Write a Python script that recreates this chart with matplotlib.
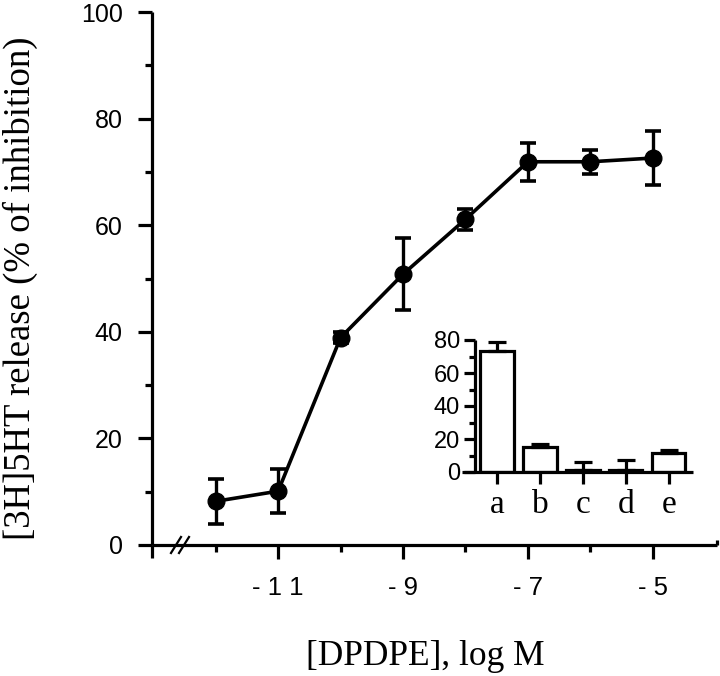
import matplotlib
matplotlib.use("Agg")
import matplotlib.pyplot as plt
from matplotlib.lines import Line2D
import numpy as np

# ---- data ----
log_conc = [-12, -11, -10, -9, -8, -7, -6, -5]
inhibition = [8.2, 10.1, 38.9, 50.8, 61.1, 71.9, 71.9, 72.6]
inhibition_err = [4.2, 4.1, 1.0, 6.8, 2.0, 3.6, 2.3, 5.0]

x_major = [-11, -9, -7, -5]
x_major_labels = ["- 1 1", "- 9", "- 7", "- 5"]
x_minor = [-12, -10, -8, -6]

inset_cats = ["a", "b", "c", "d", "e"]
inset_vals = [73.5, 15.4, 1.4, 1.4, 11.6]
inset_err = [5.1, 1.4, 4.4, 6.0, 1.6]

SANS = ["Liberation Sans", "DejaVu Sans"]
SERIF = ["Liberation Serif", "DejaVu Serif"]
LW = 2.3

W, H = 720, 676
fig = plt.figure(figsize=(W / 100, H / 100), dpi=100)

def fx(px):
    return px / W

def fy(py):
    return 1 - py / H

# main axes: y-axis at x=152, right end 717, y=0 at 545, y=100 at 12
ax = fig.add_axes([fx(152), fy(545), fx(717) - fx(152), fy(12) - fy(545)])
ax.set_xlim(-13.02, -3.97)
ax.set_ylim(0, 100)
for s in ["top", "right"]:
    ax.spines[s].set_visible(False)
for s in ["left", "bottom"]:
    ax.spines[s].set_linewidth(LW)
    ax.spines[s].set_capstyle("butt")

ax.errorbar(log_conc, inhibition, yerr=inhibition_err, color="black", lw=2.6,
            marker="o", markersize=12, capsize=6, capthick=2.6, elinewidth=2.4,
            clip_on=False, zorder=3)

ax.set_yticks([0, 20, 40, 60, 80, 100])
ax.set_yticks([10, 30, 50, 70, 90], minor=True)
ax.set_xticks(x_major)
ax.set_xticklabels(x_major_labels)
ax.set_xticks(x_minor, minor=True)
ax.tick_params(axis="y", which="major", length=10, width=LW, pad=11,
               labelsize=18, direction="out")
ax.tick_params(axis="y", which="minor", length=5, width=LW, direction="out")
ax.tick_params(axis="x", which="major", length=10, width=LW, pad=12,
               labelsize=18.5, direction="out")
ax.tick_params(axis="x", which="minor", length=5, width=LW, direction="out")
for lab in ax.get_xticklabels() + ax.get_yticklabels():
    lab.set_fontfamily(SANS)

# y spine extension below the corner
ax.add_line(Line2D([0, 0], [0, -13 / 533], transform=ax.transAxes, color="black",
                   lw=LW, clip_on=False, solid_capstyle="butt"))
# small upturn at right end of x axis
ax.add_line(Line2D([1, 1], [0, 5 / 533], transform=ax.transAxes, color="black",
                   lw=LW, clip_on=False, solid_capstyle="butt"))

# axis break marks "//"
for x0 in (171, 179):
    fig.add_artist(Line2D([fx(x0), fx(x0 + 10)], [fy(553), fy(537)],
                          color="black", lw=1.6))

# labels
fig.text(fx(20), fy(288), "[3H]5HT release (% of inhibition)", rotation=90,
         ha="center", va="center", fontsize=26.5, family=SERIF)
fig.text(fx(425), fy(665), "[DPDPE], log M", ha="center", va="baseline",
         fontsize=25.5, family=SERIF)

# ---- inset ----
iax = fig.add_axes([fx(462), fy(472), fx(693) - fx(462), fy(340) - fy(472)])
iax.set_xlim(-0.814, 4.56)
iax.set_ylim(0, 80)
for s in ["top", "right"]:
    iax.spines[s].set_visible(False)
for s in ["left", "bottom"]:
    iax.spines[s].set_linewidth(LW)
    iax.spines[s].set_capstyle("butt")
iax.spines["left"].set_position(("data", -0.51))
iax.patch.set_alpha(0)

xpos = np.arange(len(inset_cats))
iax.bar(xpos, inset_vals, width=0.77, color="white", edgecolor="black",
        linewidth=LW, zorder=2)
iax.errorbar(xpos, inset_vals, yerr=[np.zeros(len(inset_err)), inset_err],
             fmt="none", ecolor="black", elinewidth=LW, capsize=6.5,
             capthick=LW, zorder=3)
iax.set_xticks(xpos)
iax.set_xticklabels(inset_cats)
iax.set_yticks([0, 20, 40, 60, 80])
iax.set_yticks([10, 30, 50, 70], minor=True)
iax.tick_params(axis="y", which="major", length=8, width=LW, pad=3,
                labelsize=17)
iax.tick_params(axis="y", which="minor", length=4.5, width=LW)
iax.tick_params(axis="x", which="major", length=8.5, width=LW, pad=4,
                labelsize=24)
for lab in iax.get_yticklabels():
    lab.set_fontfamily(SANS)
for lab in iax.get_xticklabels():
    lab.set_fontfamily(SERIF)

fig.savefig("out.png", dpi=100)
